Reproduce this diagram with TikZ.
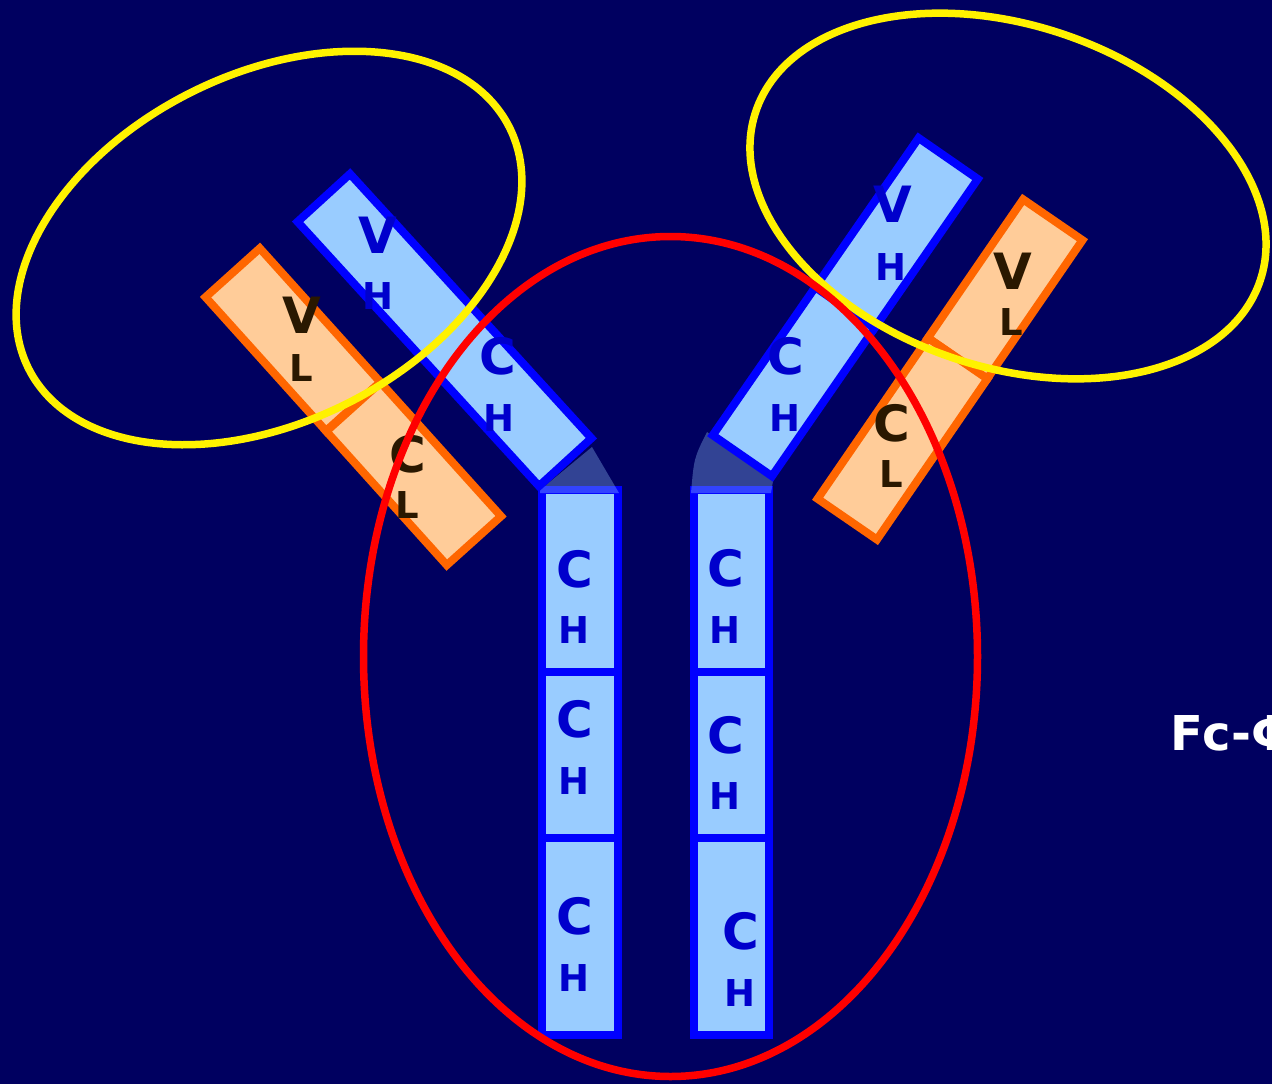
\documentclass[tikz,border=0pt]{standalone}
\usepackage{fontspec}
\setmainfont{DejaVu Sans}
\definecolor{navy}{HTML}{000060}
\definecolor{hblue}{HTML}{0000FF}
\definecolor{hfill}{HTML}{99CCFF}
\definecolor{lorange}{HTML}{FF6600}
\definecolor{lfill}{HTML}{FFCC99}
\definecolor{htxt}{HTML}{0000CC}
\definecolor{ltxt}{HTML}{2A1800}
\begin{document}
\begin{tikzpicture}[x=1pt,y=-1pt,
  hbox/.style={draw=hblue, fill=hfill, line width=8pt, inner sep=0pt, outer sep=0pt},
  lbox/.style={draw=lorange, fill=lfill, line width=8pt, inner sep=0pt, outer sep=0pt},
  big/.style={font=\bfseries\fontsize{50}{50}\selectfont, inner sep=0pt},
  small/.style={font=\bfseries\fontsize{37}{37}\selectfont, inner sep=0pt},
  hl/.style={text=htxt}, ll/.style={text=ltxt},
  hinge/.style={fill=hfill, fill opacity=0.33},
  ring/.style={line width=7.5pt}]
\useasboundingbox (0,0) rectangle (1272,1084);
\clip (0,0) rectangle (1272,1084);
\fill[navy] (0,0) rectangle (1272,1084);

% Fc stem, left heavy chain
\node[hbox, minimum width=76pt, minimum height=182pt] (sL1) at (580,581) {};
\node[hbox, minimum width=76pt, minimum height=166pt] (sL2) at (580,755) {};
\node[hbox, minimum width=76pt, minimum height=197pt] (sL3) at (580,936.5) {};
% Fc stem, right heavy chain
\node[hbox, minimum width=75pt, minimum height=182pt] (sR1) at (731.5,581) {};
\node[hbox, minimum width=75pt, minimum height=166pt] (sR2) at (731.5,755) {};
\node[hbox, minimum width=75pt, minimum height=197pt] (sR3) at (731.5,936.5) {};

% hinge regions
\fill[hinge] (540,490) -- (592,447) -- (619,493) -- (540,493) -- cycle;
\fill[hinge] (707,432) .. controls (694,458) .. (691,493) -- (771,493) -- (773,481) -- cycle;

% left Fab arm
\node[hbox, minimum width=358pt, minimum height=71pt, rotate=-47.6] (hL) at (444.5,330) {};
\node[lbox, minimum width=180pt, minimum height=73pt, rotate=-48] (vL) at (292.9,339.6) {};
\node[lbox, minimum width=180pt, minimum height=73pt, rotate=-48] (cL) at (413.7,473.8) {};

% right Fab arm
\node[hbox, minimum width=182pt, minimum height=72pt, rotate=55.3] (vhR) at (896.4,233.3) {};
\node[hbox, minimum width=180pt, minimum height=72pt, rotate=55.3] (chR) at (793.6,381.7) {};
\node[lbox, minimum width=168pt, minimum height=72pt, rotate=55.5] (vlR) at (1005.2,289.0) {};
\node[lbox, minimum width=195pt, minimum height=72pt, rotate=55.5] (clR) at (902.5,438.8) {};

% domain labels, stems
\node[big,hl] (tL1a) at (574.5,569.5) {C}; \node[small,hl] (tL1b) at (573.5,630) {H};
\node[big,hl] (tL2a) at (574.5,719) {C};   \node[small,hl] (tL2b) at (573.5,781) {H};
\node[big,hl] (tL3a) at (574.5,916) {C};   \node[small,hl] (tL3b) at (573.5,978.5) {H};
\node[big,hl] (tR1a) at (726,568.5) {C};   \node[small,hl] (tR1b) at (725,630) {H};
\node[big,hl] (tR2a) at (726,735) {C};     \node[small,hl] (tR2b) at (725,796) {H};
\node[big,hl] (tR3a) at (740.5,931) {C};   \node[small,hl] (tR3b) at (740,993) {H};

% domain labels, left arm
\node[big,hl] (tVHl) at (377.5,235) {V};   \node[small,hl] (tVHl2) at (377.5,296.5) {H};
\node[big,hl] (tCHl) at (498,356.5) {C};   \node[small,hl] (tCHl2) at (498.5,418.5) {H};
\node[big,ll] (tVLl) at (301.5,315.5) {V}; \node[small,ll] (tVLl2) at (301,368.5) {L};
\node[big,ll] (tCLl) at (408,454.5) {C};   \node[small,ll] (tCLl2) at (407,505.5) {L};

% domain labels, right arm
\node[big,hl] (tVHr) at (892.5,204.5) {V}; \node[small,hl] (tVHr2) at (891,267.5) {H};
\node[big,hl] (tCHr) at (786,356.5) {C};   \node[small,hl] (tCHr2) at (785,418) {H};
\node[big,ll] (tVLr) at (1012.5,271.5) {V};\node[small,ll] (tVLr2) at (1011.5,322.5) {L};
\node[big,ll] (tCLr) at (892,423.5) {C};   \node[small,ll] (tCLr2) at (891,474) {L};

% antigen-binding regions
\draw[ring, yellow, shift={(269,248)}, rotate=26.6] (0,0) ellipse (269 and 174);
\draw[ring, yellow, shift={(1008,196)}, rotate=-18.5] (0,0) ellipse (266 and 171);
% Fc region
\draw[ring, red] (670.5,656.5) ellipse (307 and 420);

% side caption
\node[anchor=base west, inner sep=0pt, text=white, font=\bfseries\fontsize{48}{48}\selectfont] (fc) at (1170,750) {Fc-Φ};
\end{tikzpicture}
\end{document}
